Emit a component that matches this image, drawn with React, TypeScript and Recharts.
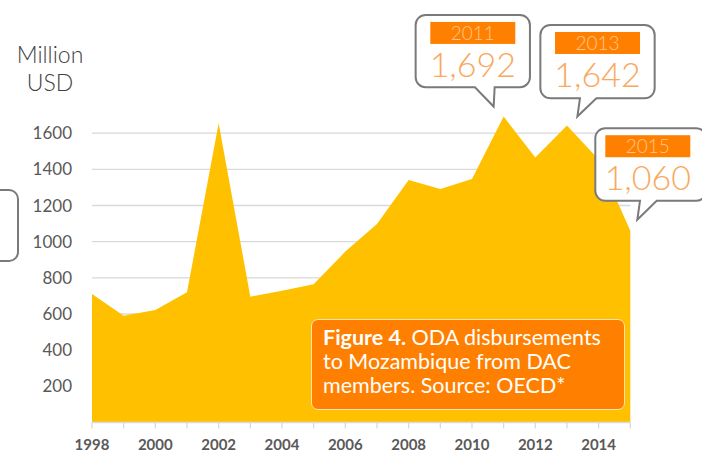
import React from "react";
import {
  AreaChart,
  Area,
  XAxis,
  YAxis,
  CartesianGrid,
  ReferenceDot,
} from "recharts";

const YEARS = [
  1998, 1999, 2000, 2001, 2002, 2003, 2004, 2005, 2006, 2007, 2008, 2009,
  2010, 2011, 2012, 2013, 2014, 2015,
];
const ODA = [
  711, 591, 622, 720, 1655, 696, 729, 764, 945, 1098, 1341, 1291, 1347, 1692,
  1465, 1642, 1455, 1060,
];
const Y_TICKS = [200, 400, 600, 800, 1000, 1200, 1400, 1600];
const CALLOUT_YEARS = [2011, 2013, 2015];

const data = YEARS.map((year, i) => ({ year, oda: ODA[i] }));

const FONT = "Lato, 'Open Sans', sans-serif";

// bubble box relative to the data point: [left, top, right, bottom], tail base and tip
const CALLOUT_LAYOUT: Record<number, number[]> = {
  2011: [-88, -101.6, 26.3, -29.3, -28.7, -9, -10, -10],
  2013: [-26.6, -100.6, 87.7, -27.3, 13, 29.4, 10.4, -9],
  2015: [-35, -102.6, 76, -30, 9.7, 26.4, 7, -11],
};

function bubblePath(
  x0: number,
  y0: number,
  x1: number,
  y1: number,
  r: number,
  b1: number,
  b2: number,
  tx: number,
  ty: number
) {
  return [
    `M${x0 + r},${y0}`,
    `H${x1 - r}`,
    `A${r},${r} 0 0 1 ${x1},${y0 + r}`,
    `V${y1 - r}`,
    `A${r},${r} 0 0 1 ${x1 - r},${y1}`,
    `H${b2}`,
    `L${tx},${ty}`,
    `L${b1},${y1}`,
    `H${x0 + r}`,
    `A${r},${r} 0 0 1 ${x0},${y1 - r}`,
    `V${y0 + r}`,
    `A${r},${r} 0 0 1 ${x0 + r},${y0}`,
    "Z",
  ].join(" ");
}

function Callout(props: any) {
  const { cx, cy, year, value } = props;
  const l = CALLOUT_LAYOUT[year];
  const x0 = cx + l[0];
  const y0 = cy + l[1];
  const x1 = cx + l[2];
  const y1 = cy + l[3];
  const w = year === 2015 ? 105 : x1 - x0;
  const mid = x0 + w / 2;
  return (
    <g>
      <path
        d={bubblePath(x0, y0, x1, y1, 10, cx + l[4], cx + l[5], cx + l[6], cy + l[7])}
        fill="#ffffff"
        stroke="#7a7a7a"
        strokeWidth={2}
      />
      <rect x={mid - 42.5} y={y0 + 7} width={85} height={22} fill="#FF8000" />
      <text
        x={mid}
        y={y0 + 25}
        textAnchor="middle"
        fill="#FFC58F"
        fontFamily={FONT}
        fontWeight={300}
        fontSize={19}
      >
        {year}
      </text>
      <text
        x={mid}
        y={y0 + 62}
        textAnchor="middle"
        fill="#F9A85E"
        fontFamily={FONT}
        fontWeight={300}
        fontSize={34}
      >
        {value.toLocaleString("en-US")}
      </text>
    </g>
  );
}

export default function App() {
  return (
    <div
      style={{
        position: "fixed",
        left: 0,
        top: 0,
        width: 702,
        height: 452,
        background: "#ffffff",
        overflow: "hidden",
        fontFamily: FONT,
      }}
    >
      <div
        style={{
          position: "absolute",
          left: 0,
          top: 40,
          width: 100,
          textAlign: "center",
          fontSize: 23,
          lineHeight: "28px",
          color: "#404040",
          fontWeight: 300,
        }}
      >
        Million
        <br />
        USD
      </div>
      <svg
        width={30}
        height={100}
        style={{ position: "absolute", left: 0, top: 180 }}
      >
        <rect
          x={-30}
          y={10}
          width={48}
          height={71}
          rx={9}
          fill="none"
          stroke="#7a7a7a"
          strokeWidth={2}
        />
      </svg>
      <AreaChart
        width={702}
        height={452}
        data={data}
        margin={{ top: 97, right: 71.7, bottom: 0, left: 0 }}
        style={{ position: "absolute", left: 0, top: 0 }}
      >
        <CartesianGrid
          vertical={false}
          horizontalValues={Y_TICKS}
          stroke="#d9d9d9"
          strokeWidth={1.3}
        />
        <XAxis
          dataKey="year"
          type="number"
          domain={[1998, 2015]}
          ticks={YEARS}
          interval={0}
          height={29.5}
          axisLine={{ stroke: "#d9d9d9", strokeWidth: 1.3 }}
          tickLine={{ stroke: "#d9d9d9", strokeWidth: 1.3 }}
          tickSize={6}
          tickMargin={11}
          tickFormatter={(v: number) => (v % 2 === 0 ? String(v) : "")}
          tick={{
            fill: "#595959",
            fontSize: 15,
            fontWeight: 700,
            fontFamily: FONT,
          }}
        />
        <YAxis
          type="number"
          domain={[0, 1800]}
          ticks={Y_TICKS}
          width={92}
          axisLine={false}
          tickLine={false}
          tickSize={0}
          tickMargin={20}
          tick={{ fill: "#595959", fontSize: 17, fontFamily: FONT }}
        />
        <Area
          type="linear"
          dataKey="oda"
          stroke="none"
          fill="#FFC000"
          fillOpacity={1}
          isAnimationActive={false}
        />
        {CALLOUT_YEARS.map((year) => {
          const value = ODA[YEARS.indexOf(year)];
          return (
            <ReferenceDot
              key={year}
              x={year}
              y={value}
              ifOverflow="visible"
              shape={(p: any) => <Callout {...p} year={year} value={value} />}
            />
          );
        })}
      </AreaChart>
      <div
        style={{
          position: "absolute",
          left: 311,
          top: 319,
          width: 301,
          height: 84,
          background: "#FF8000",
          border: "1.5px solid #FFE3B8",
          borderRadius: 7,
          color: "#ffffff",
          fontSize: 21.5,
          lineHeight: "24px",
          padding: "5px 0 0 11px",
          boxSizing: "content-box",
          whiteSpace: "nowrap",
        }}
      >
        <b>Figure 4.</b> ODA disbursements
        <br />
        to Mozambique from DAC
        <br />
        members. Source: OECD*
      </div>
    </div>
  );
}
